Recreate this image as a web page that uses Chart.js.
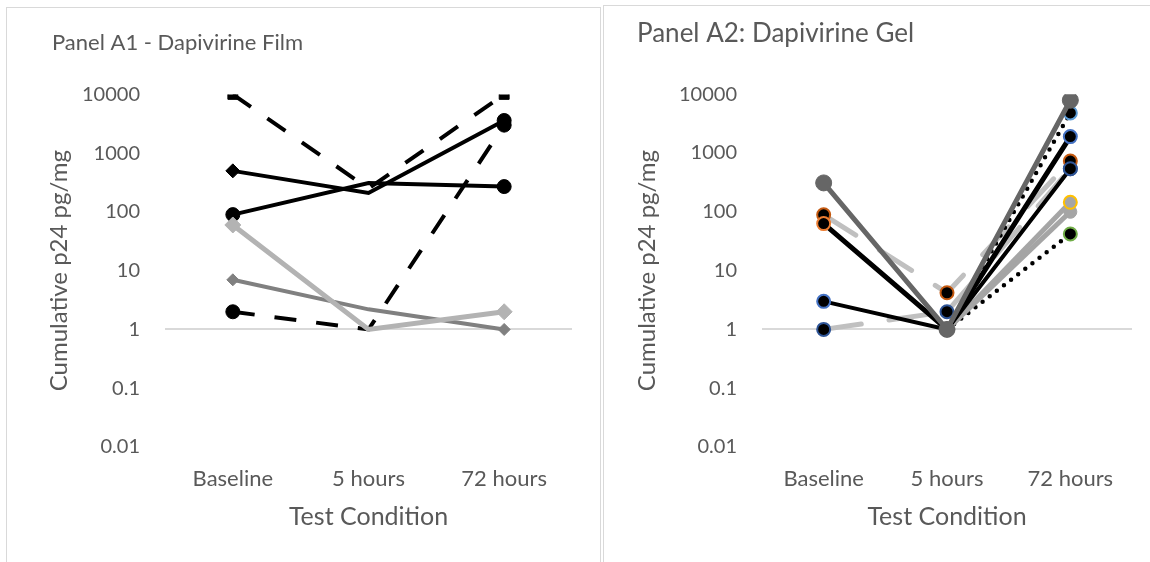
<!DOCTYPE html>
<html>
<head>
<meta charset="utf-8">
<script src="https://cdn.jsdelivr.net/npm/chart.js@4.4.0/dist/chart.umd.min.js"></script>
<style>
  html, body { margin: 0; padding: 0; background: #fff; }
  body { width: 1150px; height: 562px; overflow: hidden; position: relative; }
  .panel { position: absolute; border: 1px solid #d9d9d9; }
  .panel > div { position: relative; }
</style>
</head>
<body>
<div class="panel" style="left:6px; top:7px;"><div style="width:593px; height:560px;"><canvas id="film"></canvas></div></div>
<div class="panel" style="left:603px; top:5px;"><div style="width:558px; height:560px;"><canvas id="gel"></canvas></div></div>
<script>
const categories = ['Baseline', '5 hours', '72 hours'];
const yTicks = [0.01, 0.1, 1, 10, 100, 1000, 10000];

// Panel A1 - film
const filmDashHigh = [10000, 250, 10000];
const filmDiamond = [500, 210, 3600];
const filmCircle = [90, 310, 270];
const filmDashLow = [2, 1, 3000];
const filmGray = [7, 2.2, 1];
const filmLight = [60, 1, 2];

// Panel A2 - gel
const gelDark = [310, 1, 7900];
const gelOrangeDash = [89, 4.2, 730];
const gelOrangeSolid = [63, 1, 1900];
const gelBlueSolid = [3, 1, 540];
const gelBlueDash = [1, 2, 540];
const gelDotHigh = [null, 1, 4800];
const gelLightHigh = [null, 1, 145];
const gelLightLow = [null, 1, 100];
const gelDotLow = [null, 1, 42];

const textColor = '#595959';
const font = 'Lato';

function series(data, o) {
    return {
        data: data,
        borderColor: o.color,
        borderWidth: o.width || 4,
        borderDash: o.dash || [],
        borderCapStyle: o.cap || 'butt',
        tension: 0,
        pointStyle: o.style || 'circle',
        pointRadius: o.radius || 6,
        pointBackgroundColor: o.fill || o.color,
        pointBorderColor: o.border || o.fill || o.color,
        pointBorderWidth: o.borderWidth || 1
    };
}

// film markers are shown only at the two ends
const ends = r => [r, 0, r];

function makeChart(id, title, datasets, box) {
    return new Chart(document.getElementById(id), {
        type: 'line',
        data: { labels: categories, datasets: datasets },
        options: {
            responsive: true,
            maintainAspectRatio: false,
            animation: false,
            layout: { padding: { left: box.left, right: box.right, top: 0, bottom: 0 } },
            plugins: {
                legend: { display: false },
                tooltip: { enabled: false },
                title: {
                    display: true, text: title, align: 'start', color: textColor,
                    font: { family: font, size: box.titleSize, weight: 'normal' },
                    padding: { top: box.titleTop, bottom: box.titleBottom }
                }
            },
            scales: {
                x: {
                    offset: true,
                    grid: { display: false, drawTicks: false },
                    border: { display: false },
                    ticks: { color: textColor, font: { family: font, size: 22 }, padding: 19 },
                    title: {
                        display: true, text: 'Test Condition', color: textColor,
                        font: { family: font, size: 25 },
                        padding: { top: 0, bottom: box.xTitlePad }
                    },
                    afterFit: s => { s.height = box.xHeight; }
                },
                y: {
                    type: 'logarithmic',
                    min: 0.01,
                    max: 10000,
                    afterBuildTicks: s => { s.ticks = yTicks.map(v => ({ value: v })); },
                    grid: {
                        color: c => (c.tick && c.tick.value === 1) ? '#d9d9d9' : 'rgba(0,0,0,0)',
                        lineWidth: 2,
                        drawTicks: false
                    },
                    border: { display: false },
                    ticks: { color: textColor, font: { family: font, size: 20 }, padding: 25, callback: v => String(v) },
                    title: {
                        display: true, text: 'Cumulative p24 pg/mg', color: textColor,
                        font: { family: font, size: 24 },
                        padding: { top: box.yTitlePad, bottom: 0 }
                    },
                    afterFit: s => { s.width = box.yWidth; }
                }
            }
        }
    });
}

makeChart('film', 'Panel A1 - Dapivirine Film', [
    series(filmLight, { color: '#b3b3b3', width: 5, style: 'rectRot', radius: ends(8) }),
    series(filmGray, { color: '#808080', width: 4, style: 'rectRot', radius: ends(6) }),
    series(filmCircle, { color: '#000', style: 'circle', radius: ends(7) }),
    series(filmDiamond, { color: '#000', style: ['rectRot', 'rectRot', 'circle'], radius: ends(7) }),
    series(filmDashHigh, { color: '#000', dash: [22, 20], style: 'rect', radius: ends(7) }),
    series(filmDashLow, { color: '#000', dash: [22, 20], style: 'circle', radius: ends(7) })
], { left: 45, right: 28, titleSize: 22, titleTop: 22, titleBottom: 38, xTitlePad: 36, xHeight: 121, yTitlePad: -7, yWidth: 113 });

makeChart('gel', 'Panel A2: Dapivirine Gel', [
    series(gelDark, { color: '#666666', width: 5, radius: 8 }),
    series(gelOrangeSolid, { color: '#000', width: 5, fill: '#000', border: ['#ed7d31', '#000', '#4472c4'], borderWidth: 2, radius: 6.5 }),
    series(gelBlueSolid, { color: '#000', width: 4, fill: '#000', border: ['#4472c4', '#000', '#2f5597'], borderWidth: 2, radius: 6.5 }),
    series(gelDotHigh, { color: '#000', width: 4.5, dash: [0, 9], cap: 'round', fill: '#000', border: ['#000', '#000', '#5b9bd5'], borderWidth: 2, radius: 6.5 }),
    series(gelOrangeDash, { color: '#c0c0c0', width: 5, dash: [38, 28], cap: 'round', fill: '#000', border: '#c55a11', borderWidth: 2, radius: 6.5 }),
    series(gelBlueDash, { color: '#c0c0c0', width: 5, dash: [38, 28], cap: 'round', fill: '#000', border: '#2f5597', borderWidth: 2, radius: 6.5 }),
    series(gelLightHigh, { color: '#a5a5a5', width: 5, fill: '#a5a5a5', border: ['#a5a5a5', '#a5a5a5', '#ffc000'], borderWidth: 2, radius: 6.5 }),
    series(gelLightLow, { color: '#a5a5a5', width: 5, fill: '#a5a5a5', radius: 6.5 }),
    series(gelDotLow, { color: '#000', width: 4.5, dash: [0, 9], cap: 'round', fill: '#000', border: ['#000', '#000', '#70ad47'], borderWidth: 2, radius: 6.5 })
], { left: 33, right: 30, titleSize: 26, titleTop: 12, titleBottom: 45, xTitlePad: 34, xHeight: 119, yTitlePad: -4, yWidth: 125 });
</script>
</body>
</html>
